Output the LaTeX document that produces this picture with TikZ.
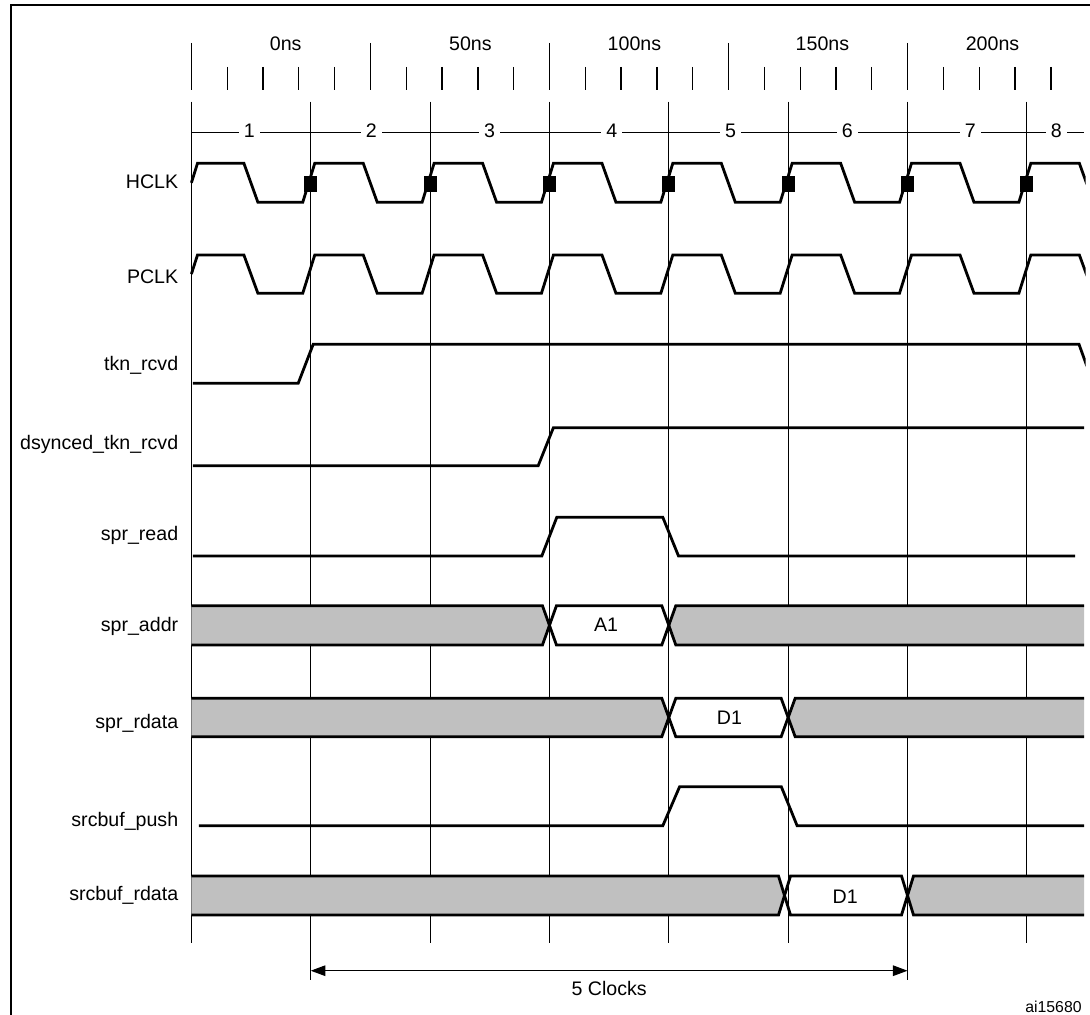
\documentclass[tikz,border=0pt]{standalone}
\usepackage{fontspec}
\setmainfont{Liberation Sans}
\usepackage{xcolor}
\definecolor{busgray}{HTML}{C0C0C0}
\usetikzlibrary{arrows.meta,positioning}

\begin{document}
\begin{tikzpicture}[
    x=0.5pt, y=-0.5pt,
    sig/.style={line width=1.4pt, black, line join=miter},
    grid/.style={line width=0.6pt, black},
    tick/.style={line width=0.65pt, black},
    txt/.style={font=\fontsize{9.8}{12}\selectfont, inner sep=0pt},
    lbl/.style={txt, anchor=base east},
    num/.style={txt, fill=white, inner xsep=2.5pt, inner ysep=1pt, anchor=base},
    dim/.style={line width=0.5pt, {Triangle[length=7.3pt,width=5.3pt]}-{Triangle[length=7.3pt,width=5.3pt]}},
]
\useasboundingbox (0,0) rectangle (1090,1015);

% frame (left and top edges)
\draw[line width=1pt] (10.7,1015) -- (10.7,5) -- (1090,5);

% time scale
\foreach \i in {0,...,24}
    \draw[tick] ({191.4+35.81*\i},67) -- ({191.4+35.81*\i},90);
\foreach \i in {0,...,4}
    \draw[tick] ({191.4+179.05*\i},43) -- ({191.4+179.05*\i},90);
\node[txt, anchor=base] (ns0) at (285.7,50.7) {0ns};
\node[txt, anchor=base] (ns50) at (470.4,50.7) {50ns};
\node[txt, anchor=base] (ns100) at (634.4,50.7) {100ns};
\node[txt, anchor=base] (ns150) at (822.4,50.7) {150ns};
\node[txt, anchor=base] (ns200) at (992.5,50.7) {200ns};

% clock cycle lines
\foreach \x in {191.4,310.75,430.1,549.45,668.8,788.15,907.5,1026.85}
    \draw[grid] (\x,101.7) -- (\x,943);
\draw[grid] (310.75,943) -- (310.75,980);
\draw[grid] (907.5,943) -- (907.5,980);

% cycle numbers
\draw[grid] (191.4,132.3) -- (1083.7,132.3);
\node[num] (c1) at (249.3,137.5) {1};
\node[num] (c2) at (371.4,137.5) {2};
\node[num] (c3) at (489.6,137.5) {3};
\node[num] (c4) at (611.9,137.5) {4};
\node[num] (c5) at (730.5,137.5) {5};
\node[num] (c6) at (847.3,137.5) {6};
\node[num] (c7) at (970.4,137.5) {7};
\node[num] (c8) at (1056.3,137.5) {8};

% signal names
\node[lbl] (hclk) at (178.6,188.3) {HCLK};
\node[lbl] (pclk) at (178.6,283.3) {PCLK};
\node[lbl] (tkn) at (178.6,370.3) {tkn\_rcvd};
\node[lbl] (dsync) at (178.6,449) {dsynced\_tkn\_rcvd};
\node[lbl] (sread) at (178.6,540.7) {spr\_read};
\node[lbl] (saddr) at (178.6,631.3) {spr\_addr};
\node[lbl] (srdata) at (178.6,728) {spr\_rdata};
\node[lbl] (bpush) at (178.6,826.3) {srcbuf\_push};
\node[lbl] (brdata) at (178.6,900.3) {srcbuf\_rdata};

% clocks and tkn_rcvd (cut at the right edge)
\begin{scope}
\clip (185,0) rectangle (1085.5,1015);
\draw[sig] (191.4,182.8) -- (197.5,163.3) -- (243.9,163.3) -- (257.9,202.3)
    \foreach \t in {310.75,430.1,549.45,668.8,788.15,907.5,1026.85} {
        -- ({\t-8},202.3) -- ({\t+4},163.3) -- ({\t+52.5},163.3) -- ({\t+66.5},202.3)
    };
\draw[sig] (191.4,274) -- (197.5,255) -- (243.9,255) -- (257.9,293.3)
    \foreach \t in {310.75,430.1,549.45,668.8,788.15,907.5,1026.85} {
        -- ({\t-8},293.3) -- ({\t+4},255) -- ({\t+52.5},255) -- ({\t+66.5},293.3)
    };
\draw[sig] (192.9,383.3) -- (298.2,383.3) -- (313.2,344.3) -- (1079,344.3) -- (1093,383.3);
\end{scope}

% sampling marks on HCLK
\foreach \t in {310.75,430.1,549.45,668.8,788.15,907.5,1026.85}
    \fill ({\t-6.4},176) rectangle ({\t+6.4},192);

% dsynced_tkn_rcvd and spr_read
\draw[sig] (192.9,465.7) -- (538.2,465.7) -- (553.4,427.7) -- (1084,427.7);
\draw[sig] (192.9,556) -- (541.8,556) -- (556.8,517.3) -- (662.8,517.3) -- (678.5,556) -- (1075,556);

% spr_addr
\fill[busgray] (191.4,605.7) -- (542.45,605.7) -- (549.45,625.35) -- (542.45,645) -- (191.4,645) -- cycle;
\fill[busgray] (668.8,625.35) -- (675.8,605.7) -- (1084,605.7) -- (1084,645) -- (675.8,645) -- cycle;
\draw[sig] (191.4,605.7) -- (542.45,605.7) -- (556.45,645) -- (661.8,645) -- (675.8,605.7) -- (1084,605.7);
\draw[sig] (191.4,645) -- (542.45,645) -- (556.45,605.7) -- (661.8,605.7) -- (675.8,645) -- (1084,645);
\node[txt] (a1) at (606,625) {A1};

% spr_rdata
\fill[busgray] (191.4,698.3) -- (661.8,698.3) -- (668.8,717.5) -- (661.8,736.7) -- (191.4,736.7) -- cycle;
\fill[busgray] (788.15,717.5) -- (795.15,698.3) -- (1084,698.3) -- (1084,736.7) -- (795.15,736.7) -- cycle;
\draw[sig] (191.4,698.3) -- (661.8,698.3) -- (675.8,736.7) -- (781.15,736.7) -- (795.15,698.3) -- (1084,698.3);
\draw[sig] (191.4,736.7) -- (661.8,736.7) -- (675.8,698.3) -- (781.15,698.3) -- (795.15,736.7) -- (1084,736.7);
\node[txt] (d1a) at (729.4,718) {D1};

% srcbuf_push
\draw[sig] (198.9,825.7) -- (662.8,825.7) -- (679.6,786.7) -- (781.3,786.7) -- (797.1,825.7) -- (1084,825.7);

% srcbuf_rdata
\fill[busgray] (191.4,876) -- (778.5,876) -- (784.5,895.5) -- (778.5,915) -- (191.4,915) -- cycle;
\fill[busgray] (907.5,895.5) -- (913.5,876) -- (1084,876) -- (1084,915) -- (913.5,915) -- cycle;
\draw[sig] (191.4,876) -- (778.5,876) -- (790.5,915) -- (901.5,915) -- (913.5,876) -- (1084,876);
\draw[sig] (191.4,915) -- (778.5,915) -- (790.5,876) -- (901.5,876) -- (913.5,915) -- (1084,915);
\node[txt] (d1b) at (845.2,897) {D1};

% latency arrow
\coordinate (clkL) at (310.75,970.7);
\coordinate (clkR) at (907.5,970.7);
\draw[dim] (clkL) -- node[txt, below=5pt] (lat) {5 Clocks} (clkR);

\node[font=\fontsize{7.9}{10}\selectfont, anchor=base east, inner sep=0pt] (fig) at (1082,1012.5) {ai15680};

\end{tikzpicture}
\end{document}
